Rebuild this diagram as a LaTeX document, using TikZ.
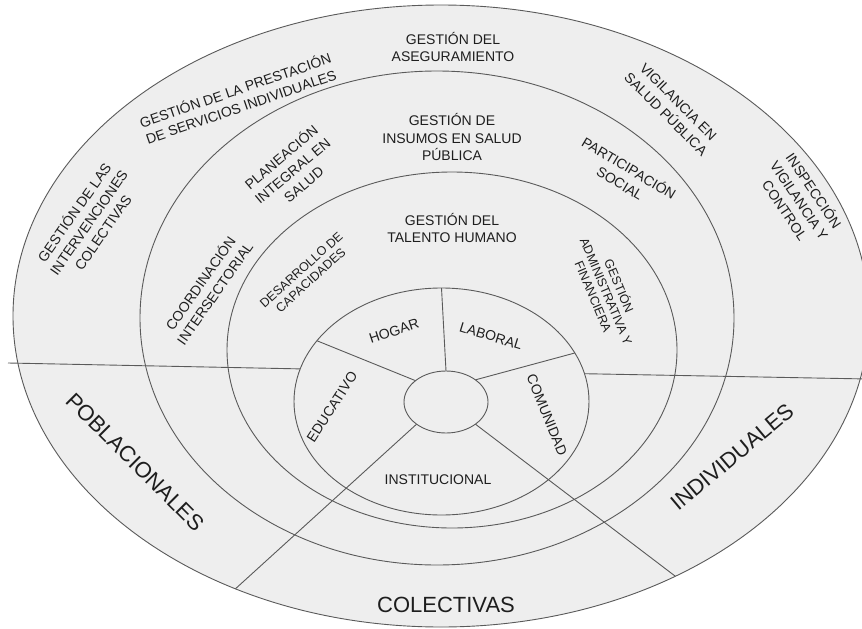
\documentclass[tikz,border=0pt]{standalone}
\usepackage{fontspec}
\setmainfont{Liberation Sans}
\usetikzlibrary{shapes.geometric}

\definecolor{ringfill}{HTML}{EEEEEE}
\definecolor{ringline}{HTML}{5A5A5A}
\definecolor{labeltext}{HTML}{1E1E1E}

\tikzset{
  ring/.style={draw=ringline, line width=0.9pt, ellipse, inner sep=0pt, outer sep=0pt},
  divider/.style={draw=ringline, line width=0.9pt},
  lbl/.style={align=center, inner sep=0pt, text=labeltext, font=\fontsize{14}{17.5}\selectfont},
  smalllbl/.style={lbl, font=\fontsize{12.5}{14}\selectfont},
  biglbl/.style={lbl, font=\fontsize{22}{26}\selectfont}
}

\begin{document}
\begin{tikzpicture}[x=1pt, y=-1pt]
    \useasboundingbox (0,0) rectangle (862,629);
    \clip (0,0) rectangle (862,629);

    % rings, outermost first
    \node[ring, fill=ringfill, minimum width=856pt, minimum height=622pt] (outer) at (441,316) {};
    \node[ring, minimum width=594pt, minimum height=494pt] (r2) at (437,318) {};
    \node[ring, minimum width=450pt, minimum height=356pt] (r3) at (452,350) {};
    \node[ring, minimum width=295pt, minimum height=227pt] (r4) at (441.5,401.5) {};
    \node[ring, minimum width=84pt, minimum height=62pt] (hub) at (446,402) {};

    % dividing lines
    \coordinate (lft) at (8,363);
    \coordinate (rgt) at (868,379);
    \draw[divider] (lft) -- (r4.167);
    \draw[divider] (r4.11) -- (rgt);
    \draw[divider] (hub.north) -- (r4.north);
    \draw[divider] (hub.145) -- (r4.154);
    \draw[divider] (hub.37) -- (r4.20);
    \draw[divider] (hub.217) -- (outer.233);
    \draw[divider] (hub.323) -- (outer.312);

    % outer ring
    \node[lbl] (aseg) at (453,47) {GESTIÓN DEL\\ASEGURAMIENTO};
    \node[lbl, rotate=19] (prest) at (238,98) {GESTIÓN DE LA PRESTACIÓN\\DE SERVICIOS INDIVIDUALES};
    \node[lbl, rotate=55] (interv) at (88,222) {GESTIÓN DE LAS\\INTERVENCIONES\\COLECTIVAS};
    \node[lbl, rotate=-45] (vigil) at (672,108) {VIGILANCIA EN\\SALUD PÚBLICA};
    \node[lbl, rotate=-56] (insp) at (800,200) {INSPECCIÓN\\VIGILANCIA Y\\CONTROL};

    % second ring
    \node[lbl] (insumos) at (452,137) {GESTIÓN DE\\INSUMOS EN SALUD\\PÚBLICA};
    \node[lbl, rotate=40] (planea) at (292,170) {PLANEACIÓN\\INTEGRAL EN\\SALUD};
    \node[lbl, rotate=-31] (partic) at (625,175) {PARTICIPACIÓN\\SOCIAL};
    \node[lbl, rotate=55] (coord) at (207,288) {COORDINACIÓN\\INTERSECTORIAL};

    % third ring
    \node[lbl] (talento) at (452,228) {GESTIÓN DEL\\TALENTO HUMANO};
    \node[smalllbl, rotate=42] (desarr) at (306,275) {DESARROLLO DE\\CAPACIDADES};
    \node[smalllbl, rotate=-67] (admin) at (607,291) {GESTIÓN\\ADMINISTRATIVA Y\\FINANCIERA};

    % inner sectors
    \node[lbl, rotate=18] (hogar) at (394,331) {HOGAR};
    \node[lbl, rotate=-17] (laboral) at (491,336) {LABORAL};
    \node[lbl, rotate=57] (educ) at (332,407) {EDUCATIVO};
    \node[lbl, rotate=-68] (comun) at (547,415) {COMUNIDAD};
    \node[lbl] (instit) at (438,480) {INSTITUCIONAL};

    % big sectors
    \node[biglbl, rotate=-45] (pobl) at (135,462) {POBLACIONALES};
    \node[biglbl] (colect) at (446,605) {COLECTIVAS};
    \node[biglbl, rotate=40] (indiv) at (732,457) {INDIVIDUALES};
\end{tikzpicture}
\end{document}
